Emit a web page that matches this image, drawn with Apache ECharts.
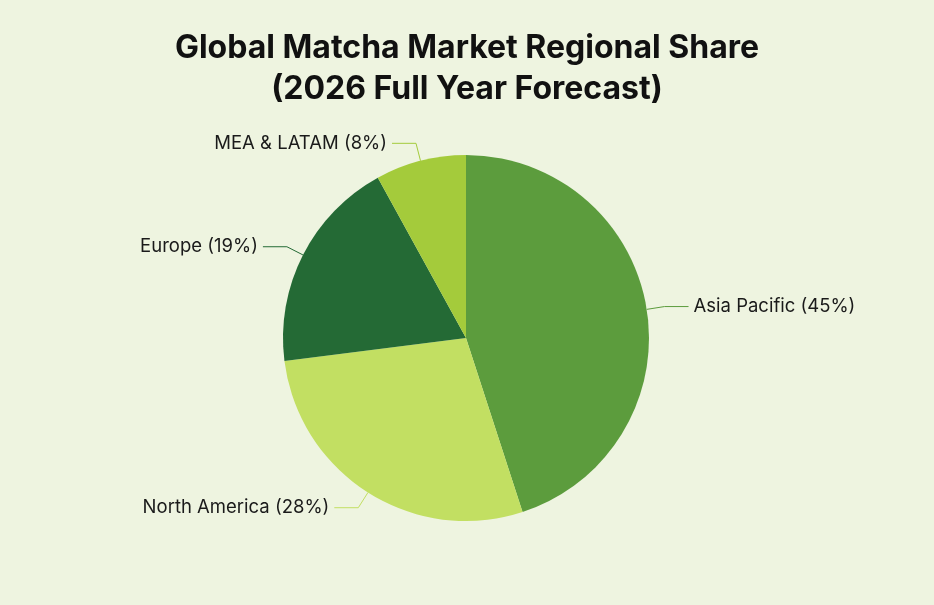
<!DOCTYPE html>
<html>
<head>
<meta charset="utf-8">
<script src="https://cdn.jsdelivr.net/npm/echarts@6/dist/echarts.min.js"></script>
<style>
html,body{margin:0;padding:0;background:#eef4e0;}
#c{width:934px;height:605px;}
</style>
</head>
<body>
<div id="c"></div>
<script>
const titleLines = ['Global Matcha Market Regional Share', '(2026 Full Year Forecast)'];
const regions = ['Asia Pacific', 'North America', 'Europe', 'MEA & LATAM'];
const shares = [45, 28, 19, 8];
const colors = ['#5c9c3d', '#c2df62', '#246a35', '#a4cb3b'];

const chart = echarts.init(document.getElementById('c'));
chart.setOption({
  backgroundColor: '#eef4e0',
  title: {
    text: titleLines.join('\n'),
    left: 'center',
    top: 23,
    textStyle: {
      fontFamily: 'Inter',
      fontSize: 32,
      fontWeight: 'bold',
      color: '#111',
      lineHeight: 41
    }
  },
  series: [{
    type: 'pie',
    center: [466, 338],
    radius: 183,
    startAngle: 90,
    clockwise: true,
    avoidLabelOverlap: true,
    data: regions.map((n, i) => ({ name: n, value: shares[i], itemStyle: { color: colors[i] } })),
    label: {
      formatter: p => p.name + ' (' + p.value + '%)',
      fontFamily: 'Inter',
      fontSize: 18.5,
      color: '#1a1a1a'
    },
    labelLine: {
      length: 18,
      length2: 24,
      lineStyle: { width: 1 }
    },
    itemStyle: { borderWidth: 0 }
  }]
});
</script>
</body>
</html>
